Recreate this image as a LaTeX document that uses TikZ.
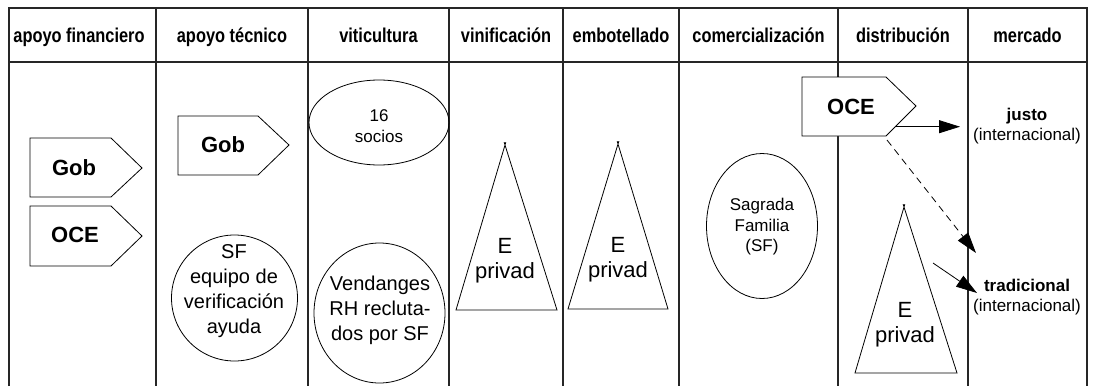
\documentclass[tikz,border=0pt]{standalone}
\usepackage{fontspec}
\setmainfont{Liberation Sans}
\newfontfamily\hdrfont{Liberation Sans}[FakeStretch=0.82]
\usetikzlibrary{arrows.meta,shapes.geometric,calc}
\begin{document}
\begin{tikzpicture}[x=1pt,y=-1pt,
  grid/.style={line width=1.1pt, draw=black!85},
  shp/.style={draw, line width=0.8pt},
  hdr/.style={font=\hdrfont\bfseries\fontsize{20}{22}\selectfont, anchor=base, inner sep=0pt},
  boxtxt/.style={font=\bfseries\fontsize{22}{26}\selectfont, inner sep=0pt},
  bigtxt/.style={font=\fontsize{20}{25}\selectfont, align=center, inner sep=0pt},
  tritxt/.style={font=\fontsize{22}{25}\selectfont, align=center, inner sep=0pt},
  smalltxt/.style={font=\fontsize{17}{20.5}\selectfont, align=center, inner sep=0pt},
  arr/.style={-{Triangle[length=21pt,width=13pt]}, line width=0.8pt}
]
\useasboundingbox (0,0) rectangle (1093,386);
% grid
\draw[grid] (9,386) -- (9,8) -- (1087,8) -- (1087,386);
\draw[grid] (9,62) -- (1087,62);
\foreach \x in {156,308,449,563,679,838,968}
  \draw[grid] (\x,8) -- (\x,386);
% headers
\node[hdr] (h1) at (79,42) {apoyo financiero};
\node[hdr] (h2) at (232,42) {apoyo técnico};
\node[hdr] (h3) at (378.5,42) {viticultura};
\node[hdr] (h4) at (506,42) {vinificación};
\node[hdr] (h5) at (621,42) {embotellado};
\node[hdr] (h6) at (758.5,42) {comercialización};
\node[hdr] (h7) at (903,42) {distribución};
\node[hdr] (h8) at (1027.5,42) {mercado};
% apoyo financiero
\draw[shp, fill=white] (30,138) -- (111,138) -- (142,168) -- (111,197) -- (30,197) -- cycle;
\node[boxtxt] (gobf) at (74,168) {Gob};
\draw[shp, fill=white] (30,206) -- (111,206) -- (142,236) -- (111,266) -- (30,266) -- cycle;
\node[boxtxt] (ocef) at (75,235) {OCE};
% apoyo tecnico
\draw[shp, fill=white] (178,116) -- (258,116) -- (289,145) -- (258,175) -- (178,175) -- cycle;
\node[boxtxt] (gobt) at (223,145) {Gob};
\node[shp, circle, minimum size=126pt, inner sep=0pt] (sfc) at (234.5,298) {};
\node[bigtxt] (sft) at (234,291) {SF\\equipo de\\verificación\\ayuda};
% viticultura
\node[shp, ellipse, minimum width=140pt, minimum height=85pt, inner sep=0pt] (soc) at (379,122.5) {};
\node[smalltxt] (soct) at (379,126) {16\\socios};
\node[shp, ellipse, minimum width=131pt, minimum height=140pt, inner sep=0pt] (ven) at (379.5,313) {};
\node[bigtxt] (vent) at (380,310) {Vendanges\\RH recluta-\\dos por SF};
% vinificacion
\coordinate (vA) at (505,145); \coordinate (vL) at (456,310); \coordinate (vR) at (557,310);
\draw[shp] ($(vA)!-3pt!(vL)$) -- (vL) -- (vR) -- ($(vA)!-3pt!(vR)$);
\node[tritxt] (vint) at (505,261) {E\\privad};
% embotellado
\coordinate (eA) at (618,144); \coordinate (eL) at (568,309); \coordinate (eR) at (668,309);
\draw[shp] ($(eA)!-3pt!(eL)$) -- (eL) -- (eR) -- ($(eA)!-3pt!(eR)$);
\node[tritxt] (embt) at (618,260) {E\\privad};
% comercializacion
\node[shp, ellipse, minimum width=111pt, minimum height=145pt, inner sep=0pt] (sag) at (762,226) {};
\node[smalltxt] (sagt) at (762,227) {Sagrada\\Familia\\(SF)};
% distribucion
\draw[shp, fill=white] (802,77) -- (886,77) -- (916,106) -- (886,136) -- (802,136) -- cycle;
\node[boxtxt] (oced) at (851,107) {OCE};
\coordinate (dA) at (904,207); \coordinate (dL) at (855,373); \coordinate (dR) at (957,373);
\draw[shp] ($(dA)!-3pt!(dL)$) -- (dL) -- (dR) -- ($(dA)!-3pt!(dR)$);
\node[tritxt] (dist) at (905,325) {E\\privad};
% mercado
\node[smalltxt] (justo) at (1027,126) {\textbf{justo}\\(internacional)};
\node[smalltxt] (trad) at (1027,297) {\textbf{tradicional}\\(internacional)};
% arrows
\coordinate (a1s) at (895,126.7); \coordinate (a1e) at (960,126.7);
\coordinate (a2s) at (887,140); \coordinate (a2e) at (976,253);
\coordinate (a3s) at (933,263); \coordinate (a3e) at (977,293);
\draw[arr] (a1s) -- (a1e);
\draw[arr, dashed, dash pattern=on 7pt off 5pt] (a2s) -- (a2e);
\draw[arr] (a3s) -- (a3e);
\end{tikzpicture}
\end{document}
